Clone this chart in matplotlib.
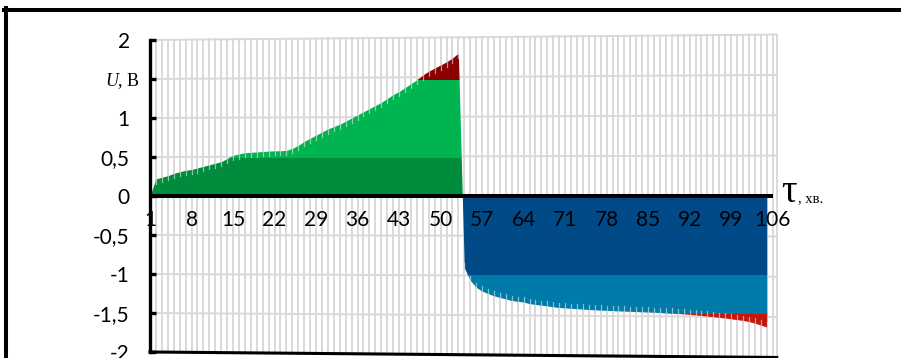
import matplotlib
matplotlib.use('Agg')
import numpy as np
import matplotlib.pyplot as plt
from matplotlib.patches import Rectangle
from matplotlib.lines import Line2D


#################### DATA ###########################################################

# time axis categories (minutes) that carry a value
tau = list(range(1, 106))

# measured voltage, V
u_values = [0.00, 0.22, 0.24, 0.26, 0.29, 0.31, 0.33, 0.34, 0.36, 0.38,
            0.40, 0.42, 0.44, 0.48, 0.52, 0.54, 0.555, 0.56, 0.565, 0.57,
            0.575, 0.58, 0.58, 0.585, 0.61, 0.65, 0.70, 0.74, 0.78, 0.82,
            0.86, 0.89, 0.92, 0.96, 1.00, 1.04, 1.08, 1.12, 1.16, 1.20,
            1.25, 1.30, 1.34, 1.39, 1.44, 1.49, 1.55, 1.60, 1.64, 1.68,
            1.72, 1.77, 1.83,
            -0.92, -1.08, -1.17, -1.22, -1.25, -1.28, -1.30, -1.32, -1.34, -1.35,
            -1.36, -1.38, -1.39, -1.40, -1.41, -1.42, -1.43, -1.435, -1.44, -1.445,
            -1.45, -1.455, -1.46, -1.463, -1.466, -1.47, -1.473, -1.476, -1.479, -1.482,
            -1.485, -1.488, -1.491, -1.494, -1.497, -1.50, -1.506, -1.512, -1.518, -1.525,
            -1.532, -1.54, -1.548, -1.556, -1.565, -1.575, -1.585, -1.595, -1.61, -1.63,
            -1.655, -1.68]

x_tick_labels = [1, 8, 15, 22, 29, 36, 43, 50, 57, 64, 71, 78, 85, 92, 99, 106]

y_ticks = [-2, -1.5, -1, -0.5, 0, 0.5, 1, 1.5, 2]
y_tick_labels = ['-2', '-1,5', '-1', '-0,5', '0', '0,5', '1', '', '2']

# value bands of the surface colouring
band_lo = [-3, -1.5, -1, 0, 0.5, 1.5]
band_hi = [-1.5, -1, 0, 0.5, 1.5, 3]
band_colors = ['#C4160C', '#007AA8', '#004B87', '#008C3C', '#00B450', '#8B0000']


#################### STYLE ##########################################################

W, H = 901, 358
left_px = 150.0          # position of category 1 / value axis
zero_px = 196.0          # pixel row of U = 0
px_per_unit = 78.0
px_per_cat = 5.93
persp = 0.035            # back wall widens slightly to the right
x_end = 106.7            # right edge of the back wall
grid_col = '#D9D9D9'
num_font = 'Lato'
serif = 'Liberation Serif'

plt.rcParams['mathtext.fontset'] = 'custom'
plt.rcParams['mathtext.it'] = 'Liberation Serif:italic'
plt.rcParams['mathtext.rm'] = 'Liberation Serif'


#################### PLOT ###########################################################

fig = plt.figure(figsize=(W / 100.0, H / 100.0), dpi=100)
fig.patch.set_facecolor('white')

ax = fig.add_axes([left_px / W, 0, 1 - left_px / W, 1])
ax.set_xlim(1, 1 + (W - left_px) / px_per_cat)
ax.set_ylim(-(H - zero_px) / px_per_unit, zero_px / px_per_unit)
ax.set_facecolor('none')

# back wall grid (slight perspective)
for v in y_ticks:
    if v in (0, -2):
        continue
    ax.plot([1, x_end], [v, v * (1 + persp)], color=grid_col, lw=1.4, zorder=0,
            clip_on=False)
for c in list(range(2, 107)) + [x_end]:
    t = (c - 1) / (x_end - 1)
    top = 2 * (1 + persp * t)
    ax.plot([c, c], [-top, top], color=grid_col, lw=1.4, zorder=0, clip_on=False)

# area coloured by value bands
x = np.array(tau, dtype=float)
u = np.array(u_values)
for lo, hi, col in zip(band_lo, band_hi, band_colors):
    poly = ax.fill_between(x, 0, u, color=col, lw=0, zorder=2)
    poly.set_clip_path(Rectangle((0, lo), 200, hi - lo, transform=ax.transData))

# saw-tooth edge of the 3D area
for xi, ui in zip(x[1:], u[1:]):
    ax.plot([xi, xi], [ui, ui - np.sign(ui) * 0.06], color='#E6E6E6', lw=0.9,
            zorder=3, alpha=0.6)

# axes lines
ax.plot([1, 106], [0, 0], color='black', lw=2.9, zorder=4, solid_capstyle='butt')
ax.plot([1, x_end], [-2, -2 * (1 + persp)], color='black', lw=2.2, zorder=4,
        clip_on=False)
for s in ['top', 'right', 'bottom']:
    ax.spines[s].set_visible(False)
ax.spines['left'].set_bounds(-2, 2)
ax.spines['left'].set_linewidth(2.4)
ax.spines['left'].set_zorder(5)

ax.set_xticks([])
ax.set_yticks(y_ticks)
ax.set_yticklabels(y_tick_labels, fontsize=15, family=num_font)
ax.tick_params(axis='y', direction='in', length=4, width=2.4, pad=14.5)

for c in x_tick_labels:
    ax.text(c, -0.31, str(c), ha='center', va='center', fontsize=15,
            family=num_font, zorder=6)

# axis titles
fig.text(140 / W, 1 - 81 / H, '$U$, В', ha='right', va='center',
         fontsize=13, family=serif)
fig.text(781 / W, 1 - 202 / H, 'τ', ha='left', va='baseline',
         fontsize=28, family=serif)
fig.text(798 / W, 1 - 202 / H, ', хв.', ha='left', va='baseline',
         fontsize=10.5, family=serif)

# outer frame of the chart object
fig.add_artist(Line2D([6 / W, 6 / W], [0, 1 - 8 / H], color='black', lw=2.9,
                      transform=fig.transFigure))
fig.add_artist(Line2D([4 / W, 1], [1 - 10 / H, 1 - 10 / H], color='black',
                      lw=2.9, transform=fig.transFigure))

fig.savefig('out.png', dpi=100)
